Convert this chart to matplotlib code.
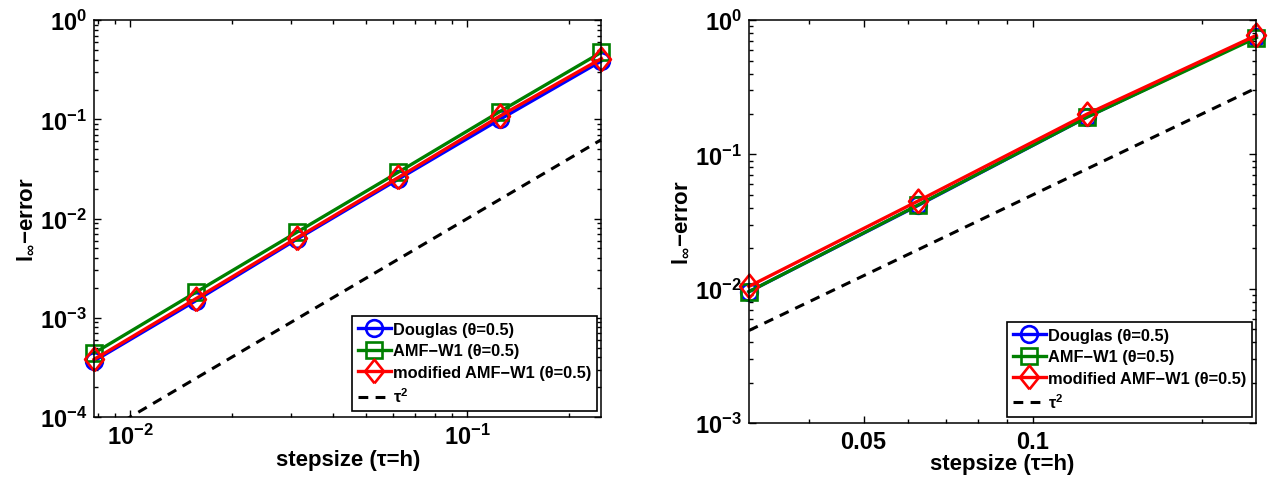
import numpy as np
import matplotlib
matplotlib.use('Agg')
import matplotlib.pyplot as plt
from matplotlib.ticker import LogLocator, NullFormatter, FixedLocator, FixedFormatter

plt.rcParams['font.family'] = ['Liberation Sans', 'DejaVu Sans']
plt.rcParams['font.weight'] = 'bold'
plt.rcParams['axes.labelweight'] = 'bold'
plt.rcParams['mathtext.fontset'] = 'custom'
plt.rcParams['mathtext.rm'] = 'Liberation Sans:bold'
plt.rcParams['mathtext.it'] = 'Liberation Sans:italic:bold'
plt.rcParams['mathtext.bf'] = 'Liberation Sans:bold'

# left panel data
tau_left = [1/128, 1/64, 1/32, 1/16, 1/8, 1/4]
douglas_left = [3.67e-4, 1.48e-3, 6.2e-3, 2.5e-2, 1.0e-1, 0.388]
amfw1_left = [4.4e-4, 1.8e-3, 7.3e-3, 2.94e-2, 1.2e-1, 0.475]
modamf_left = [3.8e-4, 1.55e-3, 6.4e-3, 2.6e-2, 1.08e-1, 0.41]

# right panel data
tau_right = [1/32, 1/16, 1/8, 1/4]
douglas_right = [9.5e-3, 4.17e-2, 0.19, 0.755]
amfw1_right = [9.5e-3, 4.2e-2, 0.19, 0.74]
modamf_right = [1.04e-2, 4.5e-2, 0.2, 0.77]
ref_factor_right = 5.0

labels = ['Douglas (θ=0.5)', 'AMF−W1 (θ=0.5)', 'modified AMF−W1 (θ=0.5)', r'$\mathdefault{τ^{2}}$']

diamond = [(0, -1), (0.8, 0), (0, 1), (-0.8, 0), (0, -1)]

fig = plt.figure(figsize=(12.78, 4.81), dpi=100)
ax1 = fig.add_axes([0.0736, 0.131, 0.397, 0.825])
ax2 = fig.add_axes([0.586, 0.1185, 0.397, 0.8375])


def draw(ax, tau, d, a, m, factor):
    tau = np.array(tau)
    ax.loglog(tau, d, color='blue', lw=2.4, marker='o', ms=12, mfc='none', mew=1.9, label=labels[0], clip_on=False)
    ax.loglog(tau, a, color=(0, 0.5, 0), lw=2.4, marker='s', ms=11, mfc='none', mew=1.9, label=labels[1], clip_on=False)
    ax.loglog(tau, m, color='red', lw=2.4, marker=diamond, ms=17, mfc='none', mew=1.9, label=labels[2], clip_on=False)
    ax.loglog(tau, factor * tau**2, color='black', lw=2.2, dashes=(3.2, 2.4), label=labels[3])
    ax.set_xlim(tau[0], tau[-1])
    ax.yaxis.set_major_locator(LogLocator(base=10, numticks=10))
    ax.yaxis.set_minor_locator(LogLocator(base=10, subs=np.arange(2, 10), numticks=20))
    ax.yaxis.set_minor_formatter(NullFormatter())
    ax.tick_params(which='both', direction='in', top=True, right=True, width=1)
    ax.tick_params(which='major', length=5, labelsize=17, pad=5)
    ax.tick_params(which='minor', length=3)
    for s in ax.spines.values():
        s.set_linewidth(1.1)
    ax.set_xlabel('stepsize (τ=h)', fontsize=16, labelpad=0)
    ax.set_ylabel(r'$\mathdefault{l_{\infty}}$−error', fontsize=16, labelpad=2)
    leg = ax.legend(loc='lower right', bbox_to_anchor=(0.992, 0.015), borderaxespad=0,
                    fontsize=11.8, handlelength=2.0, handletextpad=0.15, labelspacing=0.4,
                    fancybox=False, framealpha=1, edgecolor='black', borderpad=0.35)
    leg.get_frame().set_linewidth(1.2)


draw(ax1, tau_left, douglas_left, amfw1_left, modamf_left, 1.0)
ax1.set_ylim(1e-4, 1)
ax1.xaxis.set_minor_formatter(NullFormatter())

draw(ax2, tau_right, douglas_right, amfw1_right, modamf_right, ref_factor_right)
ax2.set_ylim(1e-3, 1)
ax2.xaxis.set_major_locator(FixedLocator([0.05, 0.1]))
ax2.xaxis.set_major_formatter(FixedFormatter(['0.05', '0.1']))
ax2.xaxis.set_minor_locator(FixedLocator([0.04, 0.06, 0.07, 0.08, 0.09, 0.2]))
ax2.xaxis.set_minor_formatter(NullFormatter())

fig.savefig('out.png', dpi=100)
